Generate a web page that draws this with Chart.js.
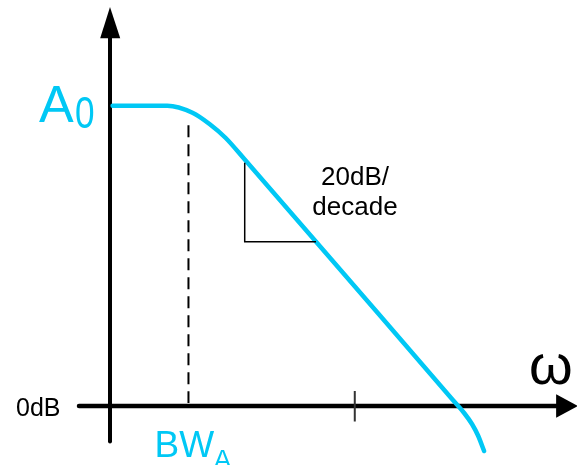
<!DOCTYPE html>
<html>
<head>
<meta charset="utf-8">
<script src="https://cdn.jsdelivr.net/npm/chart.js@4/dist/chart.umd.min.js"></script>
<style>
  html, body { margin: 0; padding: 0; background: #ffffff; }
  #wrap { width: 577px; height: 465px; }
</style>
</head>
<body>
<div id="wrap"><canvas id="c" width="577" height="465"></canvas></div>
<script>
// ---- data (x = log10(omega) in decades from the vertical axis, y = gain in dB) ----
const curveX  = [0.03, 0.66, 0.95, 1.15, 1.33, 1.55, 3.95, 4.08, 4.17, 4.24, 4.31];
const curveDb = [60.0, 60.0, 58.6, 56.3, 53.6, 49.3, 1.2, -1.4, -3.6, -5.9, -9.0];

const triangleX  = [1.552, 1.552, 2.373];
const triangleDb = [48.6, 32.8, 32.8];

const bandwidthX = [0.904, 0.904];
const bandwidthDb = [56.1, 0.6];

const tickX = [2.82, 2.82];
const tickDb = [3.0, -3.1];

const gainLabel = "A";
const gainSub = "0";
const zeroLabel = "0dB";
const bwLabel = "BW";
const bwSub = "A";
const omegaLabel = "ω";
const slopeLabels = ["20dB/", "decade"];

const CYAN = "rgb(0,200,245)";
const FONT = "'Liberation Sans', Arial, sans-serif";

function pts(xs, ys) { return xs.map((x, i) => ({ x: x, y: ys[i] })); }

const axesPlugin = {
  id: 'axes',
  beforeDatasetsDraw(chart) {
    const ctx = chart.ctx;
    const sx = chart.scales.x, sy = chart.scales.y;
    const px = v => sx.getPixelForValue(v), py = v => sy.getPixelForValue(v);
    ctx.save();
    ctx.strokeStyle = '#000';
    ctx.fillStyle = '#000';
    ctx.lineCap = 'round';
    // horizontal axis
    ctx.lineWidth = 4.5;
    ctx.beginPath();
    ctx.moveTo(px(-0.357), py(0));
    ctx.lineTo(px(5.16), py(0));
    ctx.stroke();
    ctx.beginPath();
    ctx.moveTo(px(5.39), py(0));
    ctx.lineTo(px(5.14), py(2.35));
    ctx.lineTo(px(5.14), py(-2.35));
    ctx.closePath();
    ctx.fill();
    // vertical axis
    ctx.lineWidth = 4;
    ctx.beginPath();
    ctx.moveTo(px(0), py(-7.1));
    ctx.lineTo(px(0), py(73.8));
    ctx.stroke();
    ctx.beginPath();
    ctx.moveTo(px(0), py(79.7));
    ctx.lineTo(px(-0.113), py(73.5));
    ctx.lineTo(px(0.118), py(73.5));
    ctx.closePath();
    ctx.fill();
    ctx.restore();
  },
  afterDatasetsDraw(chart) {
    const ctx = chart.ctx;
    const sx = chart.scales.x, sy = chart.scales.y;
    const px = v => sx.getPixelForValue(v), py = v => sy.getPixelForValue(v);
    ctx.save();
    ctx.textBaseline = 'alphabetic';
    // A0
    ctx.fillStyle = CYAN;
    ctx.textAlign = 'left';
    ctx.font = '52px ' + FONT;
    ctx.fillText(gainLabel, px(0) - 71, py(60) + 16);
    ctx.save();
    ctx.translate(px(0) - 35, py(60) + 22);
    ctx.scale(0.8, 1);
    ctx.font = '44px ' + FONT;
    ctx.fillText(gainSub, 0, 0);
    ctx.restore();
    // BW_A
    ctx.font = '37px ' + FONT;
    ctx.fillText(bwLabel, px(bandwidthX[0]) - 34, 457);
    ctx.font = '27px ' + FONT;
    ctx.fillText(bwSub, px(bandwidthX[0]) + 25, 469);
    // 0dB
    ctx.fillStyle = '#000';
    ctx.font = '25px ' + FONT;
    ctx.fillText(zeroLabel, 16, py(0) + 10);
    // omega
    ctx.font = '56px ' + FONT;
    ctx.fillText(omegaLabel, 529, 384);
    // slope text
    ctx.textAlign = 'center';
    ctx.font = '26px ' + FONT;
    ctx.fillText(slopeLabels[0], 355, 185);
    ctx.fillText(slopeLabels[1], 355, 215);
    ctx.restore();
  }
};

new Chart(document.getElementById('c'), {
  type: 'scatter',
  data: {
    datasets: [
      { data: pts(bandwidthX, bandwidthDb), showLine: true, borderColor: '#000', borderWidth: 2,
        borderDash: [12, 7], pointRadius: 0, tension: 0 },
      { data: pts(tickX, tickDb), showLine: true, borderColor: '#333', borderWidth: 2,
        pointRadius: 0, tension: 0 },
      { data: pts(triangleX, triangleDb), showLine: true, borderColor: '#000', borderWidth: 1.5,
        pointRadius: 0, tension: 0 },
      { data: pts(curveX, curveDb), showLine: true, borderColor: CYAN, borderWidth: 4.5,
        pointRadius: 0, cubicInterpolationMode: 'monotone', borderCapStyle: 'round', borderJoinStyle: 'round' }
    ]
  },
  options: {
    responsive: false,
    animation: false,
    devicePixelRatio: 1,
    layout: { padding: 0 },
    plugins: { legend: { display: false }, tooltip: { enabled: false } },
    scales: {
      x: { type: 'linear', min: -1.2673, max: 5.3802, display: false },
      y: { type: 'linear', min: -11.788, max: 81.119, display: false }
    }
  },
  plugins: [axesPlugin]
});
</script>
</body>
</html>
